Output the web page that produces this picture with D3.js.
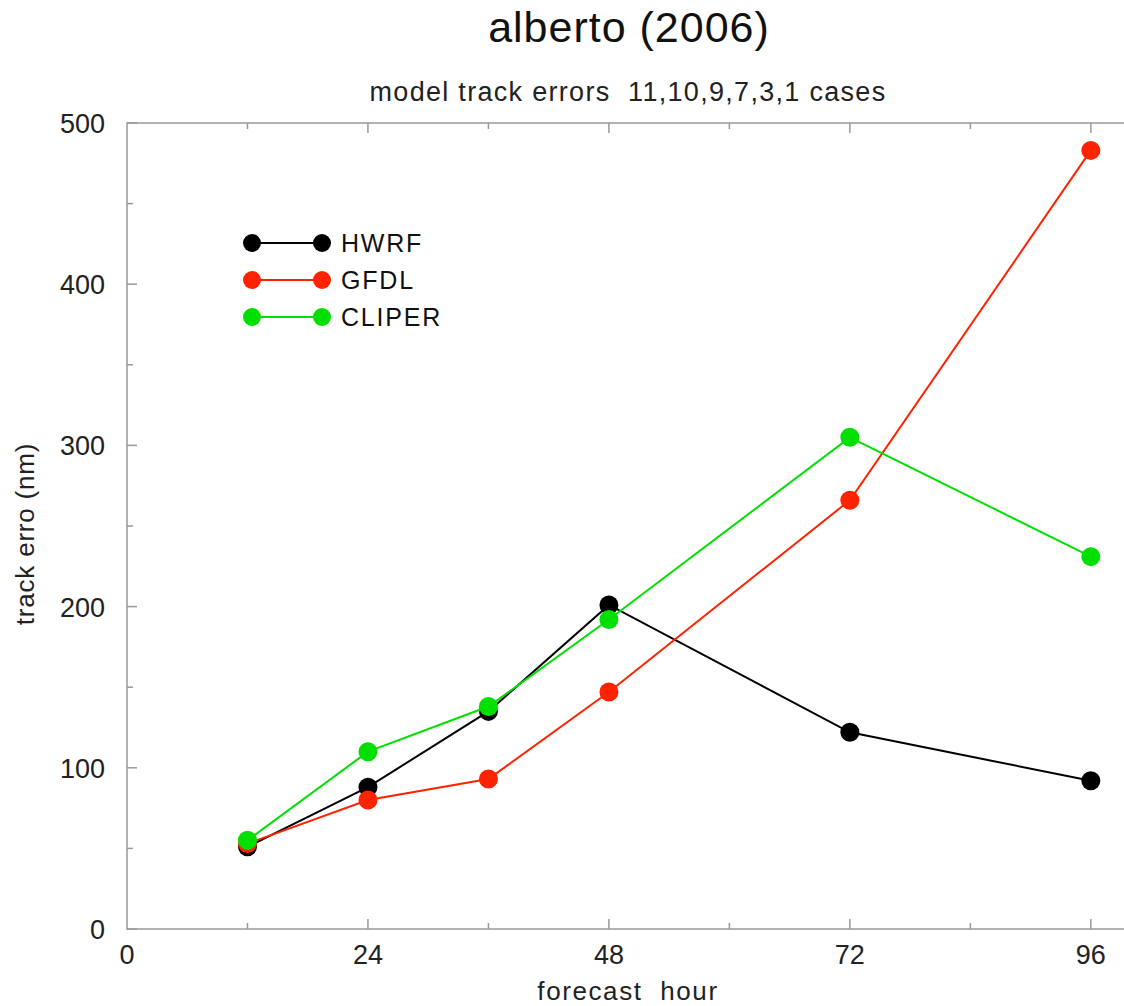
<!DOCTYPE html>
<html>
<head>
<meta charset="utf-8">
<script src="https://d3js.org/d3.v7.min.js"></script>
<style>
  body { margin: 0; background: #fff; }
  svg { display: block; font-family: "Liberation Sans", Arial, sans-serif; }
</style>
</head>
<body>
<svg id="chart"></svg>
<script>
// data
const hours = [12, 24, 36, 48, 72, 96];
const hwrf = [51, 88, 135, 201, 122, 92];
const gfdl = [53, 80, 93, 147, 266, 483];
const cliper = [55, 110, 138, 192, 305, 231];
const modelNames = ["HWRF", "GFDL", "CLIPER"];
const modelColors = ["#000000", "#ff2200", "#00e000"];
const xTicks = [0, 24, 48, 72, 96];
const xMinor = [12, 36, 60, 84];
const yTicks = [0, 100, 200, 300, 400, 500];
const yMinor = [50, 150, 250, 350, 450];

const width = 1124, height = 1006;
const plotLeft = 127, plotTop = 123, plotBottom = 929;

const svg = d3.select("#chart").attr("width", width).attr("height", height);

const x = d3.scaleLinear().domain([0, 100]).range([plotLeft, plotLeft + 1004]);
const y = d3.scaleLinear().domain([0, 500]).range([plotBottom, plotTop]);

const axisCol = "#999";

// frame
svg.append("rect")
  .attr("x", x(0)).attr("y", y(500))
  .attr("width", x(100) - x(0)).attr("height", y(0) - y(500))
  .attr("fill", "none").attr("stroke", axisCol).attr("stroke-width", 1.5);

// inward ticks
function ticks(vals, len, isX) {
  vals.forEach(v => {
    if (isX) {
      svg.append("line").attr("x1", x(v)).attr("x2", x(v)).attr("y1", y(0)).attr("y2", y(0) - len)
        .attr("stroke", axisCol).attr("stroke-width", 1.5);
      svg.append("line").attr("x1", x(v)).attr("x2", x(v)).attr("y1", y(500)).attr("y2", y(500) + len)
        .attr("stroke", axisCol).attr("stroke-width", 1.5);
    } else {
      svg.append("line").attr("x1", x(0)).attr("x2", x(0) + len).attr("y1", y(v)).attr("y2", y(v))
        .attr("stroke", axisCol).attr("stroke-width", 1.5);
    }
  });
}
ticks(xTicks.slice(1), 10, true);
ticks(xMinor, 6, true);
ticks(yTicks, 10, false);
ticks(yMinor, 6, false);

svg.append("g").selectAll("text").data(xTicks).join("text")
  .attr("x", d => x(d)).attr("y", y(0) + 35)
  .attr("text-anchor", "middle").attr("font-size", 27).attr("fill", "#222")
  .text(d => d);

svg.append("g").selectAll("text").data(yTicks).join("text")
  .attr("x", x(0) - 22).attr("y", d => y(d) + 10)
  .attr("text-anchor", "end").attr("font-size", 27).attr("fill", "#222")
  .text(d => d);

// titles
svg.append("text").attr("x", 629).attr("y", 42).attr("text-anchor", "middle")
  .attr("font-size", 43).attr("letter-spacing", 1).attr("fill", "#111").text("alberto (2006)");
svg.append("text").attr("x", 628).attr("y", 101).attr("text-anchor", "middle")
  .attr("font-size", 27).attr("letter-spacing", 1.3).attr("fill", "#222").attr("xml:space", "preserve")
  .text("model track errors  11,10,9,7,3,1 cases");
svg.append("text").attr("x", 628).attr("y", 1000).attr("text-anchor", "middle")
  .attr("font-size", 26).attr("letter-spacing", 1.6).attr("fill", "#222").attr("xml:space", "preserve")
  .text("forecast  hour");
svg.append("text").attr("transform", "translate(34,534) rotate(-90)").attr("text-anchor", "middle")
  .attr("font-size", 26).attr("letter-spacing", 0.8).attr("fill", "#222").text("track erro (nm)");

// series
const series = [hwrf, gfdl, cliper];
const line = d3.line().x((d, i) => x(hours[i])).y(d => y(d));
series.forEach((vals, k) => {
  const g = svg.append("g");
  g.append("path").datum(vals).attr("d", line)
    .attr("fill", "none").attr("stroke", modelColors[k]).attr("stroke-width", 2);
  g.selectAll("circle").data(vals).join("circle")
    .attr("cx", (d, i) => x(hours[i])).attr("cy", d => y(d)).attr("r", 9.5)
    .attr("fill", modelColors[k]);
});

// legend
const legend = svg.append("g");
modelNames.forEach((name, k) => {
  const ly = 243 + k * 37;
  legend.append("line").attr("x1", 252).attr("x2", 322).attr("y1", ly).attr("y2", ly)
    .attr("stroke", modelColors[k]).attr("stroke-width", 2);
  legend.append("circle").attr("cx", 252).attr("cy", ly).attr("r", 9).attr("fill", modelColors[k]);
  legend.append("circle").attr("cx", 322).attr("cy", ly).attr("r", 9).attr("fill", modelColors[k]);
  legend.append("text").attr("x", 341).attr("y", ly + 9).attr("font-size", 25)
    .attr("letter-spacing", 1.8).attr("fill", "#111").text(name);
});
</script>
</body>
</html>
